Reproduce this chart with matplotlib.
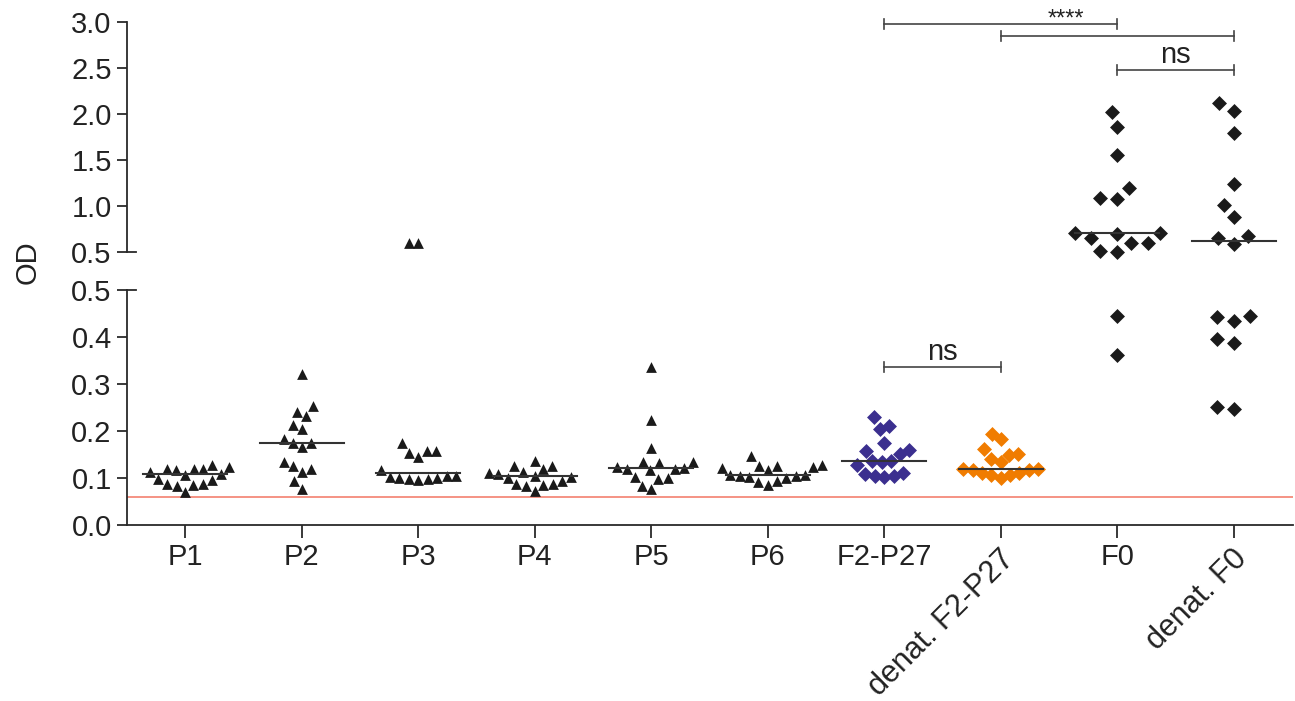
import numpy as np
import matplotlib
matplotlib.use("Agg")
import matplotlib.pyplot as plt

plt.rcParams['font.family'] = ['Liberation Sans', 'DejaVu Sans']

# groups and OD values
groups = ["P1", "P2", "P3", "P4", "P5", "P6", "F2-P27", "denat. F2-P27", "F0", "denat. F0"]
p1 = [0.123, 0.120, 0.116, 0.109, 0.106, 0.112, 0.120, 0.120, 0.128,
      0.098, 0.088, 0.086, 0.070, 0.083, 0.087, 0.095]
p2 = [0.321, 0.254, 0.241, 0.232, 0.213, 0.204, 0.175, 0.165, 0.174, 0.184,
      0.133, 0.119, 0.112, 0.126, 0.094, 0.076]
p3 = [0.158, 0.153, 0.144, 0.157, 0.174, 0.116, 0.104, 0.100, 0.098, 0.096,
      0.098, 0.100, 0.103, 0.104, 0.60, 0.60]
p4 = [0.126, 0.113, 0.108, 0.099, 0.137, 0.105, 0.103, 0.110, 0.119, 0.126,
      0.087, 0.085, 0.072, 0.083, 0.087, 0.094]
p5 = [0.336, 0.223, 0.163, 0.131, 0.135, 0.135, 0.121, 0.119, 0.117, 0.120,
      0.124, 0.103, 0.098, 0.099, 0.076, 0.082]
p6 = [0.128, 0.126, 0.121, 0.117, 0.123, 0.126, 0.147, 0.106, 0.104, 0.103,
      0.104, 0.106, 0.094, 0.085, 0.092, 0.099]
f2_p27 = [0.229, 0.204, 0.211, 0.175, 0.158, 0.151, 0.160, 0.136, 0.134, 0.127,
          0.136, 0.111, 0.105, 0.103, 0.105, 0.109]
denat_f2_p27 = [0.184, 0.193, 0.140, 0.151, 0.148, 0.161, 0.133, 0.120, 0.116,
                0.111, 0.107, 0.099, 0.107, 0.111, 0.116, 0.119]
f0 = [2.018, 1.862, 1.554, 1.090, 1.079, 1.199, 0.710, 0.710, 0.696, 0.649,
      0.594, 0.503, 0.514, 0.594, 0.445, 0.362]
denat_f0 = [2.116, 2.036, 1.797, 1.236, 1.011, 0.877, 0.649, 0.587, 0.674,
            0.445, 0.435, 0.443, 0.395, 0.387, 0.247, 0.252]
values = [p1, p2, p3, p4, p5, p6, f2_p27, denat_f2_p27, f0, denat_f0]

cutoff = 0.06
brk = 0.5

markers = ['^'] * 6 + ['D'] * 4
colors = ['#1a1a1a'] * 6 + ['#3b2f8f', '#f07c00', '#1a1a1a', '#1a1a1a']
msizes = [60] * 6 + [58] * 4
spread = [9.5] * 8 + [17, 17]   # horizontal spacing of the swarm, px
axis_col = '#2a2a2a'
txt_col = '#222222'
fs = 21

W, H = 1295, 701
fig = plt.figure(figsize=(W / 100, H / 100), dpi=100)
left, right = 127 / W, 1293 / W
ax_lo = fig.add_axes([left, (H - 525) / H, right - left, (525 - 290) / H])
ax_hi = fig.add_axes([left, (H - 252) / H, right - left, (252 - 22) / H])

x = np.arange(len(groups))
for ax in (ax_lo, ax_hi):
    ax.set_xlim(-0.5, 9.51)
    for s in ['top', 'right']:
        ax.spines[s].set_visible(False)
    for s in ['left', 'bottom']:
        ax.spines[s].set_color(axis_col)
        ax.spines[s].set_linewidth(1.3)
    ax.tick_params(axis='both', colors=axis_col, labelcolor=txt_col,
                   labelsize=fs, length=7, width=1.3, pad=4)
ax_lo.set_ylim(0, brk)
ax_hi.set_ylim(brk, 3.0)
ax_lo.set_yticks(np.arange(0, 0.51, 0.1))
ax_lo.set_yticklabels([f"{v:.1f}" for v in np.arange(0, 0.51, 0.1)])
ax_hi.set_yticks(np.arange(0.5, 3.01, 0.5))
ax_hi.set_yticklabels([f"{v:.1f}" for v in np.arange(0.5, 3.01, 0.5)])
ax_hi.spines['bottom'].set_visible(False)
ax_hi.tick_params(axis='x', bottom=False, labelbottom=False)
ax_lo.set_xticks(x)
ax_lo.set_xticklabels([])
ax_lo.tick_params(axis='x', length=9)

# end caps at the axis break
for ax, yy in ((ax_lo, 1), (ax_hi, 0)):
    ax.plot([0, 9 / (W * (right - left))], [yy, yy], transform=ax.transAxes,
            color=axis_col, lw=1.3, clip_on=False)

# category labels
for i, g in enumerate(groups):
    if g.startswith('denat'):
        ax_lo.text(i + 0.17, -0.08, g, rotation=45, ha='right', va='top',
                   rotation_mode='default', fontsize=fs + 1, color=txt_col,
                   transform=ax_lo.get_xaxis_transform())
    else:
        ax_lo.text(i, -0.075, g, ha='center', va='top', fontsize=fs,
                   color=txt_col, transform=ax_lo.get_xaxis_transform())

fig.text(28 / W, 1 - 262 / H, "OD", rotation=90, ha='center', va='center',
         fontsize=fs, color=txt_col)

ax_lo.axhline(cutoff, color='#f4806f', lw=1.2, zorder=1)


def to_px(v, xi=0.0):
    ax = ax_hi if v >= brk else ax_lo
    return ax.transData.transform((xi, v))


def swarm(vals, rx, ry):
    # simple beeswarm with an elliptical keep-out zone, in pixels
    ys = np.array([to_px(v)[1] for v in vals])
    xs = np.zeros(len(ys))
    px, py = [], []
    for i in np.argsort(ys):
        y = ys[i]
        cands = [0.0]
        for xj, yj in zip(px, py):
            dy = abs(y - yj)
            if dy < ry:
                dx = rx * np.sqrt(1 - (dy / ry) ** 2)
                cands += [xj - dx, xj + dx]
        cands.sort(key=lambda c: (abs(c), c))
        for c in cands:
            if all(((c - xj) / rx) ** 2 + ((y - yj) / ry) ** 2 >= 1 - 1e-6
                   for xj, yj in zip(px, py)):
                break
        xs[i] = c
        px.append(c)
        py.append(y)
    return xs


ppu = ax_lo.transData.transform((1, 0))[0] - ax_lo.transData.transform((0, 0))[0]

for i, vals in enumerate(values):
    vals = np.array(vals)
    offs = swarm(vals, spread[i], 15) / ppu
    lo = vals < brk
    ax_lo.scatter(x[i] + offs[lo], vals[lo], marker=markers[i], s=msizes[i],
                  color=colors[i], linewidths=0, zorder=3, clip_on=False)
    ax_hi.scatter(x[i] + offs[~lo], vals[~lo], marker=markers[i], s=msizes[i],
                  color=colors[i], linewidths=0, zorder=3, clip_on=False)
    med = np.median(vals)
    ax_m = ax_hi if med >= brk else ax_lo
    ax_m.plot([x[i] - 0.36, x[i] + 0.36], [med, med], color='#333333', lw=1.5, zorder=4)


# significance brackets
def bracket(ax, x1, x2, y, h, label=None):
    kw = dict(color='#444444', lw=1.2, clip_on=False)
    ax.plot([x1, x2], [y, y], **kw)
    ax.plot([x1, x1], [y - h, y + h], **kw)
    ax.plot([x2, x2], [y - h, y + h], **kw)
    if label:
        ax.text((x1 + x2) / 2, y + 0.003 * (ax.get_ylim()[1] - ax.get_ylim()[0]),
                label, ha='center', va='bottom', fontsize=fs, color=txt_col)


bracket(ax_hi, 6, 8, 2.978, 0.055)
bracket(ax_hi, 7, 9, 2.848, 0.055)
ax_hi.text(7.56, 2.91, "****", ha='center', va='bottom', fontsize=17, color=txt_col)
bracket(ax_hi, 8, 9, 2.478, 0.055, "ns")
bracket(ax_lo, 6, 7, 0.336, 0.011, "ns")

fig.savefig("out.png", dpi=100)
